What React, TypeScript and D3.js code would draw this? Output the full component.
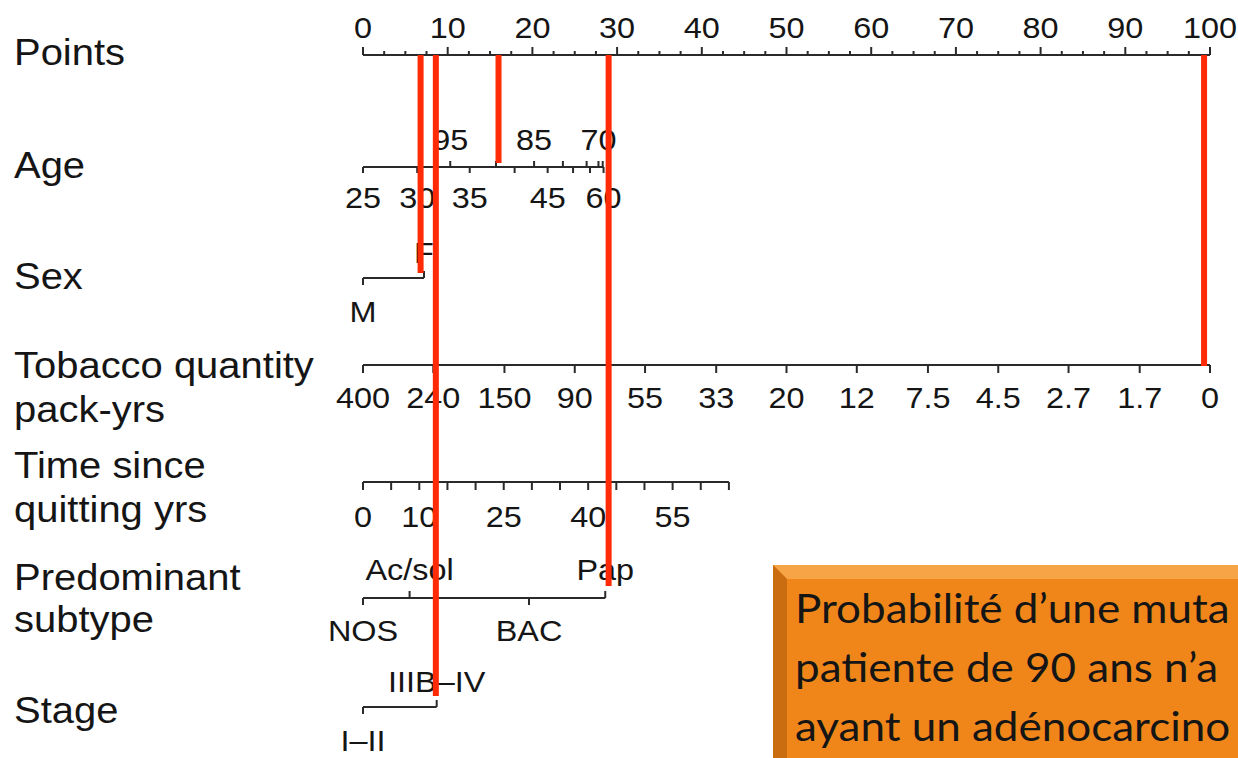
import React from "react";
import * as d3 from "d3";

// ---------- data ----------
const pointsMajor = [0, 10, 20, 30, 40, 50, 60, 70, 80, 90, 100];
const pointsMinorStep = 2.5;

const ageBottomValues = [25, 30, 35, 40, 45, 50, 55, 60];
const ageBottomPoints = [0, 6.4, 12.6, 17.9, 21.8, 24.8, 26.8, 28.4];
const ageBottomLabeled = [25, 30, 35, 45, 60];
const ageTopValues = [95, 90, 85, 80, 75, 70, 65];
const ageTopPoints = [10.3, 15.7, 20.2, 23.6, 26.4, 27.8, 28.3];
const ageTopLabeled = [95, 85, 70];

const sexLevels = ["M", "F"];
const sexPoints = [0, 7.2];

const tobaccoLabels = ["400", "240", "150", "90", "55", "33", "20", "12", "7.5", "4.5", "2.7", "1.7", "0"];
const tobaccoPoints = [0, 8.3, 16.7, 25, 33.3, 41.7, 50, 58.3, 66.7, 75, 83.3, 91.7, 100];

const quitTickValues = [0, 5, 10, 15, 20, 25, 30, 35, 40, 45, 50, 55, 60, 65];
const quitLabeled = [0, 10, 25, 40, 55];
const quitMaxYears = 65;
const quitMaxPoints = 43.2;

const subtypeLevels = ["NOS", "Ac/sol", "BAC", "Pap"];
const subtypePoints = [0, 5.5, 19.6, 28.6];
const subtypeSide = ["bottom", "top", "bottom", "top"];

const stageLevels = ["I\u2013II", "IIIB\u2013IV"];
const stagePoints = [0, 8.7];

const redPoints = [6.8, 8.6, 16, 29, 99.3];
const redStopRows = ["sex", "stage", "age", "subtype", "tobacco"];

// visible part of the (cropped) annotation box
const boxLines = [
  "Probabilité d\u2019une muta",
  "patiente de 90 ans n\u2019a",
  "ayant un adénocarcino",
];

// ---------- layout ----------
const W = 1238;
const H = 758;
const x = d3.scaleLinear().domain([0, 100]).range([363, 1210]);
const rowY: Record<string, number> = {
  points: 55,
  age: 167,
  sex: 278,
  tobacco: 365,
  quit: 482,
  subtype: 598,
  stage: 707,
};
const redEndOffset: Record<string, number> = {
  sex: -5,
  stage: -11,
  age: -4,
  subtype: -12,
  tobacco: 1,
};
const FONT = "'Liberation Sans', Arial, Helvetica, sans-serif";
const TICK_FS = 30;
const LABEL_FS = 37;
const SX = 1.08;
const INK = "#151515";
const AXIS = "#2a2a2a";
const RED = "#ff2a06";

function T({
  x: tx,
  y: ty,
  fs,
  anchor = "start",
  children,
  family = FONT,
  sx = SX,
}: {
  x: number;
  y: number;
  fs: number;
  anchor?: string;
  children: React.ReactNode;
  family?: string;
  sx?: number;
}) {
  return (
    <text
      transform={`translate(${tx},${ty}) scale(${sx},1)`}
      textAnchor={anchor}
      fontSize={fs}
      fontFamily={family}
      fill={INK}
    >
      {children}
    </text>
  );
}

type Tick = { p: number; label?: string; side: "top" | "bottom"; len?: number };

function Row({
  y,
  ticks,
  maxP,
  bottomOff = 43,
  topOff = 17,
}: {
  y: number;
  ticks: Tick[];
  maxP: number;
  bottomOff?: number;
  topOff?: number;
}) {
  return (
    <g>
      <line x1={x(0)} x2={x(maxP)} y1={y} y2={y} stroke={AXIS} strokeWidth={2} />
      {ticks.map((t, i) => (
        <g key={i}>
          <line
            x1={x(t.p)}
            x2={x(t.p)}
            y1={y}
            y2={t.side === "top" ? y - (t.len ?? 7) : y + (t.len ?? 7)}
            stroke={AXIS}
            strokeWidth={2}
          />
          {t.label ? (
            <T x={x(t.p)} y={t.side === "top" ? y - topOff : y + bottomOff} fs={TICK_FS} anchor="middle">
              {t.label}
            </T>
          ) : null}
        </g>
      ))}
    </g>
  );
}

export default function App() {
  const minorTicks = d3.range(0, 100 + 0.001, pointsMinorStep);
  const quitScale = d3.scaleLinear().domain([0, quitMaxYears]).range([0, quitMaxPoints]);

  const ageTicks: Tick[] = [
    ...ageBottomValues.map((v, i) => ({
      p: ageBottomPoints[i],
      label: ageBottomLabeled.includes(v) ? String(v) : undefined,
      side: "bottom" as const,
      len: 6,
    })),
    ...ageTopValues.map((v, i) => ({
      p: ageTopPoints[i],
      label: ageTopLabeled.includes(v) ? String(v) : undefined,
      side: "top" as const,
      len: 6,
    })),
  ];
  const sexTicks: Tick[] = sexLevels.map((l, i) => ({ p: sexPoints[i], label: l, side: i === 0 ? "bottom" : "top" }));
  const tobaccoTicks: Tick[] = tobaccoLabels.map((l, i) => ({ p: tobaccoPoints[i], label: l, side: "bottom", len: 8 }));
  const quitTicks: Tick[] = quitTickValues.map((v) => ({
    p: quitScale(v),
    label: quitLabeled.includes(v) ? String(v) : undefined,
    side: "bottom",
    len: 8,
  }));
  const subtypeTicks: Tick[] = subtypeLevels.map((l, i) => ({
    p: subtypePoints[i],
    label: l,
    side: subtypeSide[i] as "top" | "bottom",
  }));
  const stageTicks: Tick[] = stageLevels.map((l, i) => ({ p: stagePoints[i], label: l, side: i === 0 ? "bottom" : "top" }));

  const leftLabels: [string, number][] = [
    ["Points", 65],
    ["Age", 178],
    ["Sex", 289],
    ["Tobacco quantity", 378],
    ["pack-yrs", 422],
    ["Time since", 478],
    ["quitting yrs", 522],
    ["Predominant", 590],
    ["subtype", 632],
    ["Stage", 723],
  ];

  const bx = 773;
  const by = 565;
  const bev = 14;

  return (
    <svg
      width={W}
      height={H}
      viewBox={`0 0 ${W} ${H}`}
      style={{ position: "absolute", left: 0, top: 0, background: "#fff" }}
    >
      <rect x={0} y={0} width={W} height={H} fill="#fff" />

      {leftLabels.map(([t, y]) => (
        <T key={t} x={14} y={y} fs={LABEL_FS}>
          {t}
        </T>
      ))}

      {/* Points axis */}
      <g>
        <line x1={x(0)} x2={x(100)} y1={rowY.points} y2={rowY.points} stroke={AXIS} strokeWidth={2} />
        {minorTicks.map((p) => (
          <line
            key={p}
            x1={x(p)}
            x2={x(p)}
            y1={rowY.points}
            y2={rowY.points - (p % 10 === 0 ? 8 : 4)}
            stroke={AXIS}
            strokeWidth={2}
          />
        ))}
        {pointsMajor.map((p) => (
          <T key={p} x={x(p)} y={38} fs={TICK_FS} anchor="middle">
            {p}
          </T>
        ))}
      </g>

      <Row y={rowY.age} ticks={ageTicks} maxP={d3.max([...ageBottomPoints, ...ageTopPoints]) as number} bottomOff={41} />
      <Row y={rowY.sex} ticks={sexTicks} maxP={sexPoints[1]} bottomOff={44} topOff={15} />
      <Row y={rowY.tobacco} ticks={tobaccoTicks} maxP={100} />
      <Row y={rowY.quit} ticks={quitTicks} maxP={quitMaxPoints} bottomOff={45} />
      <Row y={rowY.subtype} ticks={subtypeTicks} maxP={d3.max(subtypePoints) as number} bottomOff={43} topOff={18} />
      <Row y={rowY.stage} ticks={stageTicks} maxP={stagePoints[1]} bottomOff={44} topOff={15} />

      {/* orange box */}
      <g>
        <rect x={bx} y={by} width={W - bx} height={H - by} fill="#f0861a" />
        <polygon points={`${bx},${by} ${W},${by} ${W},${by + bev} ${bx + bev},${by + bev}`} fill="#f7a447" />
        <polygon points={`${bx},${by} ${bx + bev},${by + bev} ${bx + bev},${H} ${bx},${H}`} fill="#c96d10" />
        {boxLines.map((t, i) => (
          <T key={i} x={795} y={623 + i * 59} fs={40} sx={1.1} family="Lato, 'Open Sans', sans-serif">
            {t}
          </T>
        ))}
      </g>

      {/* red reading lines */}
      {redPoints.map((p, i) => (
        <line
          key={i}
          x1={x(p)}
          x2={x(p)}
          y1={rowY.points}
          y2={rowY[redStopRows[i]] + redEndOffset[redStopRows[i]]}
          stroke={RED}
          strokeWidth={6}
        />
      ))}
    </svg>
  );
}
